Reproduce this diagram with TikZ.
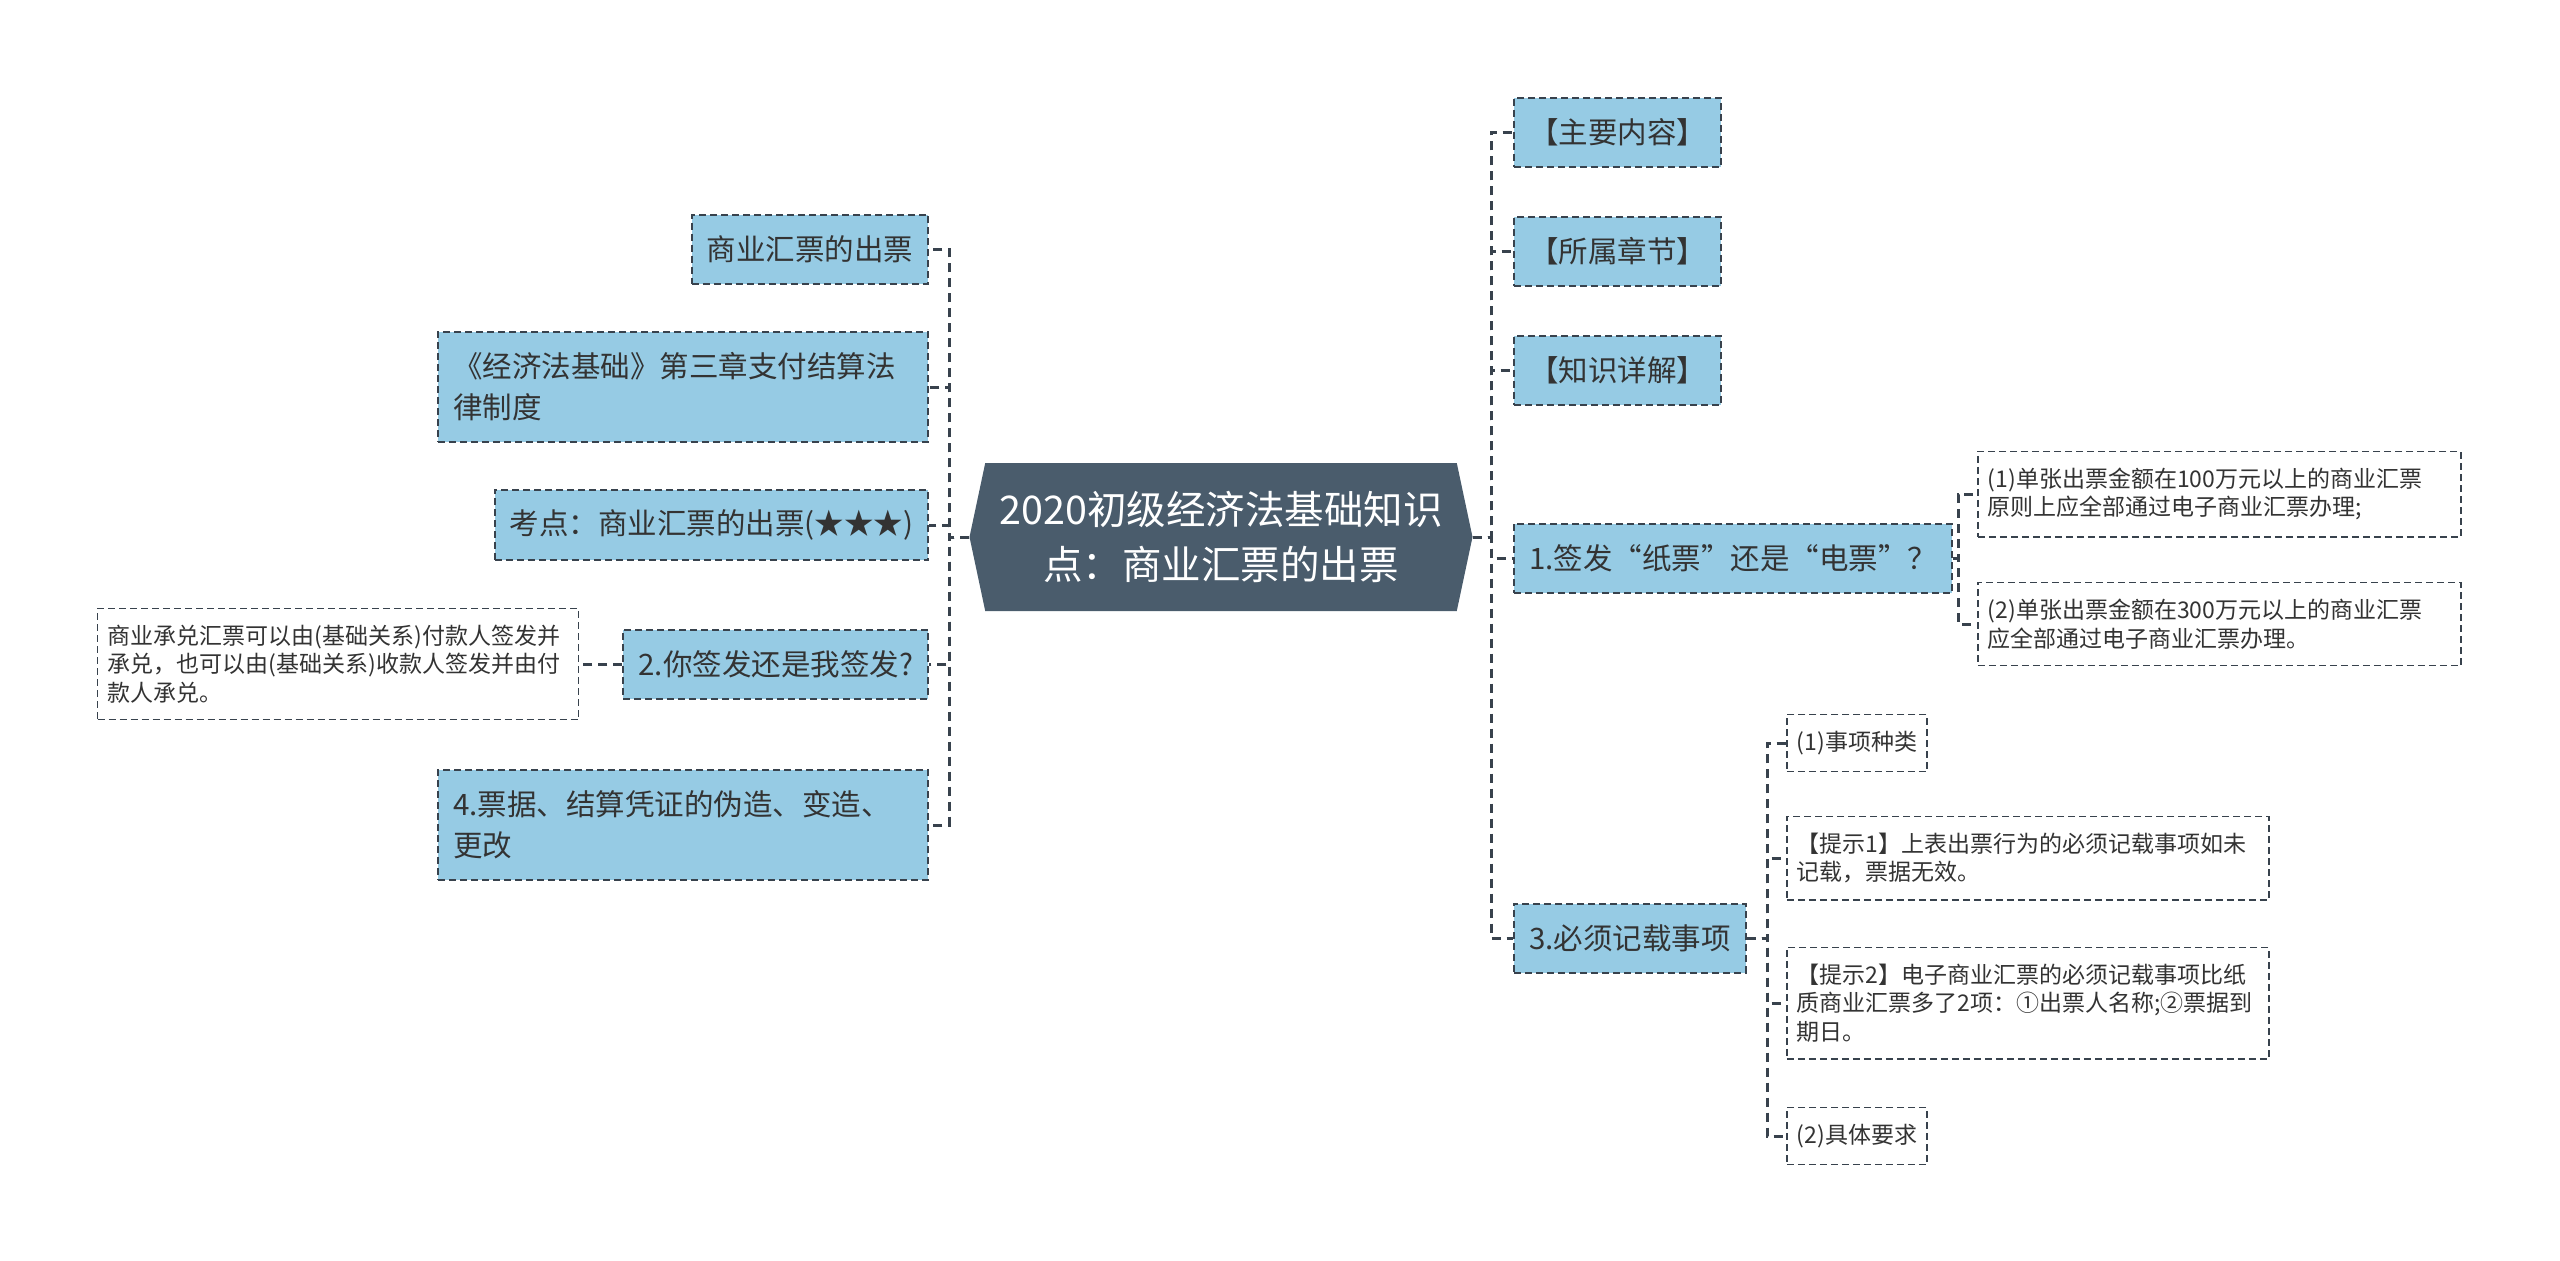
\documentclass[tikz,border=0pt]{standalone}
\usepackage{fontspec}
\setmainfont{Noto Sans CJK SC}
\usepackage{xcolor}
\usepackage{tikz}
\usetikzlibrary{shapes.symbols, positioning}

\definecolor{rootfill}{RGB}{74,92,108}
\definecolor{topicfill}{RGB}{150,203,228}
\definecolor{linecol}{RGB}{56,66,77}
\definecolor{textcol}{RGB}{51,51,51}

\begin{document}
\begin{tikzpicture}[
    x=1pt, y=-1pt,
    root/.style={signal, signal to=east and west, signal pointer angle=156, fill=rootfill, text=white, font=\fontsize{39.5}{55}\selectfont, align=center, minimum width=503, minimum height=148, inner sep=0},
    topic/.style={rectangle, draw=linecol, dash pattern=on 7pt off 4pt, line width=2, fill=topicfill, text=textcol, font=\fontsize{29.5}{41}\selectfont, align=left, inner xsep=15, inner ysep=20, minimum height=69},
    leaf/.style={rectangle, draw=linecol, dash pattern=on 7pt off 4pt, line width=1.6, fill=white, text=textcol, font=\fontsize{23}{28.5}\selectfont, align=left, inner xsep=10, inner ysep=16.5},
    link/.style={draw=linecol, line width=3, dash pattern=on 9pt off 6pt}
]
\useasboundingbox (0,0) rectangle (2560,1261);

% 中心
\node[root] (root) at (1221,537) {2020初级经济法基础知识\\点：商业汇票的出票};

% 左侧
\node[topic, anchor=east] (chupiao) at (929,249) {商业汇票的出票};
\node[topic, anchor=east, text width=460, minimum height=110] (zhangjie) at (929,387) {《经济法基础》第三章支付结算法\\律制度};
\node[topic, anchor=east] (kaodian) at (929,525) {考点：商业汇票的出票(★★★)};
\node[topic, anchor=east] (qianfa) at (929,664) {2.你签发还是我签发?};
\node[leaf, left=43 of qianfa, text width=461] (chengdui) {商业承兑汇票可以由(基础关系)付款人签发并\\承兑，也可以由(基础关系)收款人签发并由付\\款人承兑。};
\node[topic, anchor=east, text width=460, minimum height=110] (weizao) at (929,825) {4.票据、结算凭证的伪造、变造、\\更改};

% 右侧
\node[topic, anchor=west] (neirong) at (1513,132) {【主要内容】};
\node[topic, anchor=west] (suoshu) at (1513,251) {【所属章节】};
\node[topic, anchor=west] (xiangjie) at (1513,370) {【知识详解】};
\node[topic, anchor=west] (zhidian) at (1513,558) {1.签发“纸票”还是“电票”？};
\node[topic, anchor=west] (jizai) at (1513,938) {3.必须记载事项};

% 纸票/电票
\node[leaf, anchor=west, text width=463] (yibai) at (1977,494) {(1)单张出票金额在100万元以上的商业汇票\\原则上应全部通过电子商业汇票办理;};
\node[leaf, anchor=west, text width=463] (sanbai) at (1977,624) {(2)单张出票金额在300万元以上的商业汇票\\应全部通过电子商业汇票办理。};

% 记载事项
\node[leaf, anchor=west] (zhonglei) at (1786,743) {(1)事项种类};
\node[leaf, anchor=west, text width=462] (tishiyi) at (1786,858) {【提示1】上表出票行为的必须记载事项如未\\记载，票据无效。};
\node[leaf, anchor=west, text width=462] (tishier) at (1786,1003) {【提示2】电子商业汇票的必须记载事项比纸\\质商业汇票多了2项：①出票人名称;②票据到\\期日。};
\node[leaf, anchor=west] (yaoqiu) at (1786,1136) {(2)具体要求};

% 连线
\coordinate (ltrunk) at (949,537);
\coordinate (rtrunk) at (1491,537);
\coordinate (ztrunk) at (1958,558);
\coordinate (jtrunk) at (1767,938);

\draw[link] (root.west) -- (ltrunk) |- (chupiao.east);
\draw[link] (root.west) -- (ltrunk) |- (zhangjie.east);
\draw[link] (root.west) -- (ltrunk) |- (kaodian.east);
\draw[link] (root.west) -- (ltrunk) |- (qianfa.east);
\draw[link] (root.west) -- (ltrunk) |- (weizao.east);
\draw[link] (qianfa.west) -- (chengdui.east);

\draw[link] (root.east) -- (rtrunk) |- (neirong.west);
\draw[link] (root.east) -- (rtrunk) |- (suoshu.west);
\draw[link] (root.east) -- (rtrunk) |- (xiangjie.west);
\draw[link] (root.east) -- (rtrunk) |- (zhidian.west);
\draw[link] (root.east) -- (rtrunk) |- (jizai.west);

\draw[link] (zhidian.east) -- (ztrunk) |- (yibai.west);
\draw[link] (zhidian.east) -- (ztrunk) |- (sanbai.west);

\draw[link] (jizai.east) -- (jtrunk) |- (zhonglei.west);
\draw[link] (jizai.east) -- (jtrunk) |- (tishiyi.west);
\draw[link] (jizai.east) -- (jtrunk) |- (tishier.west);
\draw[link] (jizai.east) -- (jtrunk) |- (yaoqiu.west);

\end{tikzpicture}
\end{document}
